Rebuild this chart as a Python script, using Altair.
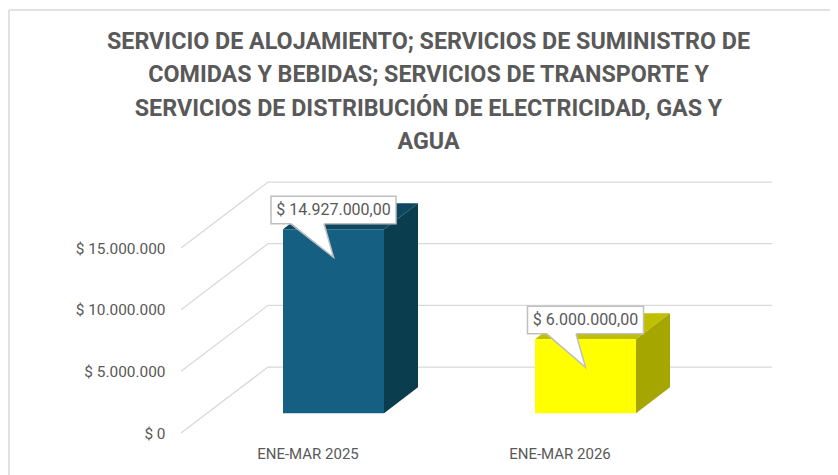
import json
import altair as alt
import pandas as pd

# --- values
title_lines = [
    "SERVICIO DE ALOJAMIENTO; SERVICIOS DE SUMINISTRO DE",
    "COMIDAS Y BEBIDAS; SERVICIOS DE TRANSPORTE Y",
    "SERVICIOS DE DISTRIBUCIÓN DE ELECTRICIDAD, GAS Y",
    "AGUA",
]
categories = ["ENE-MAR 2025", "ENE-MAR 2026"]
values = [14927000, 6000000]
value_labels = ["$ 14.927.000,00", "$ 6.000.000,00"]
tick_values = [0, 5000000, 10000000, 15000000]

front_colors = ["#156082", "#FFFF00"]
top_colors = ["#0F4761", "#BFBF00"]
side_colors = ["#0A3D4E", "#A6A600"]

# --- 3D geometry, in data units
PX_X = 252.0            # pixels per category
PX_Y = 12.33 / 1e6      # pixels per currency unit
W, H = 591, 263
X0, X1 = -0.502, -0.502 + W / PX_X
Y1 = H / PX_Y
ux = lambda p: p / PX_X
uy = lambda p: p / PX_Y

wall_dx, wall_dy = ux(87), uy(66)
bar_dx, bar_dy = ux(26), uy(19.7)
bar_half = ux(50.5)
depth_dx, depth_dy = ux(34), uy(26)

grid = []
for v in tick_values:
    for i, (x, y) in enumerate([(X0, v), (X0 + wall_dx, v + wall_dy), (X1, v + wall_dy)]):
        grid.append({"v": v, "i": i, "x": x, "y": y})
grid = pd.DataFrame(grid)

front, top, side, boxes, tails, tail_edges = [], [], [], [], [], []
box_half = [ux(62.5), ux(58)]
for k, val in enumerate(values):
    x0, x1 = k + bar_dx - bar_half, k + bar_dx + bar_half
    base, head = bar_dy, bar_dy + val
    front.append({"x": x0, "x2": x1, "y": base, "y2": head, "c": front_colors[k]})
    top += [
        {"k": k, "y": head, "x": x0, "x2": x1, "c": top_colors[k]},
        {"k": k, "y": head + depth_dy, "x": x0 + depth_dx, "x2": x1 + depth_dx, "c": top_colors[k]},
    ]
    side += [
        {"k": k, "x": x1, "y": base, "y2": head, "c": side_colors[k]},
        {"k": k, "x": x1 + depth_dx, "y": base + depth_dy, "y2": head + depth_dy, "c": side_colors[k]},
    ]
    cx = k + bar_dx
    b_low, b_high = head + uy(5.5), head + uy(33)
    boxes.append({"x": cx - box_half[k], "x2": cx + box_half[k], "y": b_low, "y2": b_high,
                  "label": value_labels[k], "cx": cx, "cy": (b_low + b_high) / 2})
    tip = head - uy(28)
    l, r = cx - ux(43 if k == 0 else 39), cx - ux(9.5)
    tails += [
        {"k": k, "y": tip, "x": cx, "x2": cx},
        {"k": k, "y": b_low + uy(1), "x": l, "x2": r},
    ]
    tail_edges += [
        {"k": k, "i": 0, "x": l, "y": b_low},
        {"k": k, "i": 1, "x": cx, "y": tip},
        {"k": k, "i": 2, "x": r, "y": b_low},
    ]

front, top, side = map(pd.DataFrame, (front, top, side))
boxes, tails, tail_edges = map(pd.DataFrame, (boxes, tails, tail_edges))

titles = pd.DataFrame({
    "line": title_lines,
    "x": [X0 + ux(428.5 - 181)] * 4,
    "y": [uy(433 - p) for p in (41.5, 75, 109, 141.5)],
})

xs = alt.Scale(domain=[X0, X1], nice=False, zero=False)
ys = alt.Scale(domain=[0, Y1], nice=False, zero=False)
FONT = "Roboto"
TXT = "#595959"
tick_expr = "'$ ' + replace(format(datum.value, ','), regexp(',', 'g'), '.')"
cat_expr = json.dumps(categories) + "[datum.value]"

x_enc = alt.X("x:Q", scale=xs, axis=alt.Axis(
    title=None, values=[0, 1], labelExpr=cat_expr, domain=False, ticks=False, grid=False,
    labelPadding=20.5, labelFont=FONT, labelFontSize=15, labelColor=TXT, labelBaseline="middle"))
y_enc = alt.Y("y:Q", scale=ys, axis=alt.Axis(
    title=None, values=tick_values, labelExpr=tick_expr, domain=False, ticks=False, grid=False,
    labelPadding=16, labelFont=FONT, labelFontSize=15.4, labelColor=TXT))

grid_layer = alt.Chart(grid).mark_line(color="#D9D9D9", strokeWidth=1.25, clip=False).encode(
    x=x_enc, y=y_enc, detail="v:N", order="i:Q")
front_layer = alt.Chart(front).mark_rect().encode(
    x=alt.X("x:Q", scale=xs), x2="x2:Q", y=alt.Y("y:Q", scale=ys), y2="y2:Q",
    color=alt.Color("c:N", scale=None))
top_layer = alt.Chart(top).mark_area(orient="horizontal").encode(
    y=alt.Y("y:Q", scale=ys), x=alt.X("x:Q", scale=xs, stack=None), x2="x2:Q",
    color=alt.Color("c:N", scale=None))
side_layer = alt.Chart(side).mark_area(orient="vertical").encode(
    x=alt.X("x:Q", scale=xs), y=alt.Y("y:Q", scale=ys, stack=None), y2="y2:Q",
    color=alt.Color("c:N", scale=None))
box_layer = alt.Chart(boxes).mark_rect(fill="white", stroke="#BFBFBF", strokeWidth=1.5).encode(
    x=alt.X("x:Q", scale=xs), x2="x2:Q", y=alt.Y("y:Q", scale=ys), y2="y2:Q")
tail_layer = alt.Chart(tails).mark_area(orient="horizontal", color="white").encode(
    y=alt.Y("y:Q", scale=ys), x=alt.X("x:Q", scale=xs, stack=None), x2="x2:Q", detail="k:N")
edge_layer = alt.Chart(tail_edges).mark_line(color="#BFBFBF", strokeWidth=1.5).encode(
    x=alt.X("x:Q", scale=xs), y=alt.Y("y:Q", scale=ys), detail="k:N", order="i:Q")
label_layer = alt.Chart(boxes).mark_text(font=FONT, fontSize=16, color=TXT).encode(
    x=alt.X("cx:Q", scale=xs), y=alt.Y("cy:Q", scale=ys), text="label:N")
title_layer = alt.Chart(titles).mark_text(font=FONT, fontSize=23.3, fontWeight="bold", color=TXT).encode(
    x=alt.X("x:Q", scale=xs), y=alt.Y("y:Q", scale=ys), text="line:N")

LEFT, TOP = 173, 162
TOTAL_W, TOTAL_H = 822, 467
border_h = alt.Chart(pd.DataFrame({"a": [0]})).mark_rule(color="#D9D9D9", strokeWidth=1.5).encode(
    x=alt.value(1 - LEFT), x2=alt.value(TOTAL_W - LEFT), y=alt.value(2 - TOP))
border_v = alt.Chart(pd.DataFrame({"a": [0]})).mark_rule(color="#D9D9D9", strokeWidth=1.5).encode(
    x=alt.value(1 - LEFT), y=alt.value(2 - TOP), y2=alt.value(TOTAL_H - TOP))

chart = alt.layer(
    border_h, border_v, grid_layer, top_layer, side_layer, front_layer,
    box_layer, tail_layer, edge_layer, label_layer, title_layer,
).properties(
    width=W, height=H,
    autosize=alt.AutoSizeParams(type="none"),
    padding={"left": LEFT, "top": TOP, "right": TOTAL_W - LEFT - W, "bottom": TOTAL_H - TOP - H},
    background="white",
).configure_view(stroke=None)

chart.save("out.html", embed_options={"renderer": "svg", "actions": False})
